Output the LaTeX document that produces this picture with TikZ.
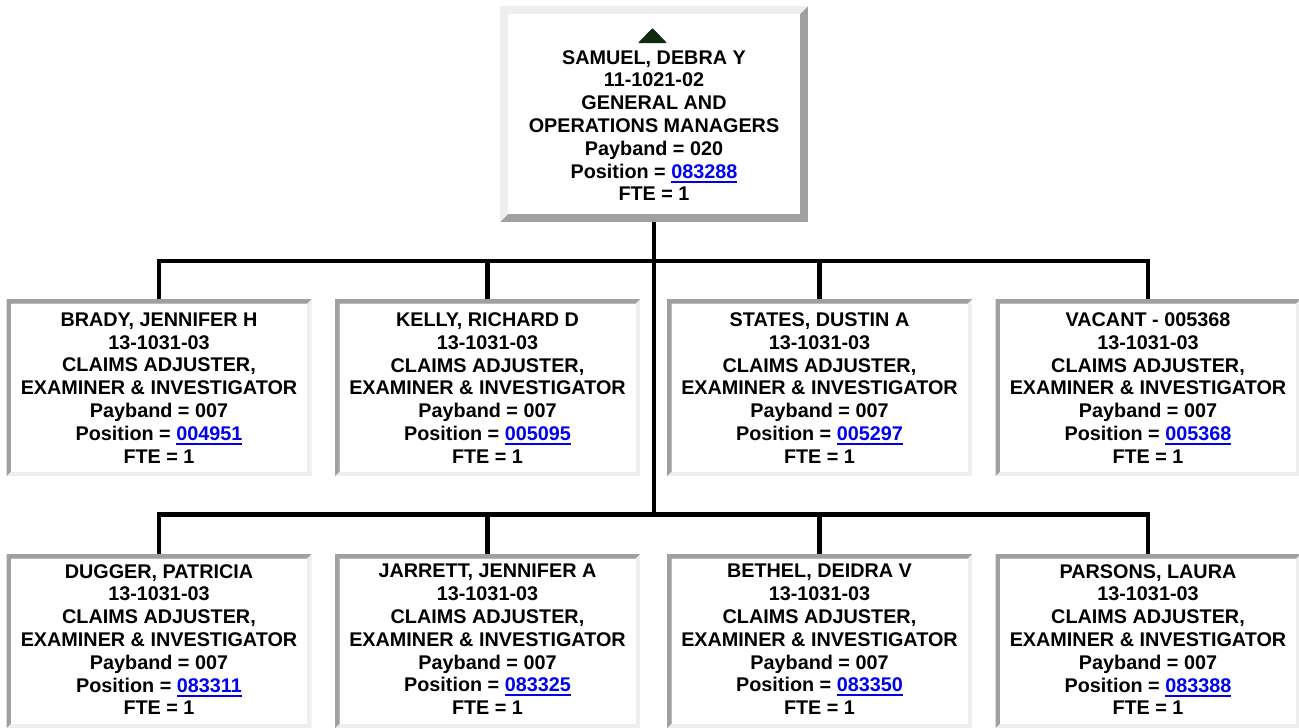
\documentclass[tikz,border=0pt]{standalone}
\usepackage{fontspec}
\setmainfont{Liberation Sans}
\definecolor{bdark}{HTML}{A0A0A0}
\definecolor{blight}{HTML}{EEEEEE}
\definecolor{linkblue}{RGB}{0,0,238}
\definecolor{arrowgreen}{RGB}{14,44,16}
\newcommand\poslink[1]{{\color{linkblue}\setbox0\hbox{#1}\rlap{\rule[-4.6pt]{\wd0}{2.1pt}}\box0}}
\newcommand\claimtext[2]{#1\\13-1031-03\\CLAIMS ADJUSTER,\\EXAMINER \& INVESTIGATOR\\Payband = 007\\Position = \poslink{#2}\\FTE = 1}
\tikzset{
  bevel/.style n args={3}{draw=none, inner sep=0pt, path picture={
    \fill[#2] (path picture bounding box.south west) rectangle (path picture bounding box.north east);
    \fill[#1] (path picture bounding box.south west) -- (path picture bounding box.north west)
      -- (path picture bounding box.north east) -- ([shift={(-#3,-#3)}]path picture bounding box.north east)
      -- ([shift={(#3,-#3)}]path picture bounding box.north west) -- ([shift={(#3,#3)}]path picture bounding box.south west) -- cycle;
    \fill[white] ([shift={(#3,#3)}]path picture bounding box.south west) rectangle ([shift={(-#3,-#3)}]path picture bounding box.north east);
  }},
  outsetbox/.style={bevel={blight}{bdark}{8pt}, minimum width=308pt, minimum height=216pt},
  insetbox/.style={bevel={bdark}{blight}{4.5pt}, minimum width=305pt},
  row1/.style={insetbox, minimum height=177pt},
  row2/.style={insetbox, minimum height=174pt},
  boxtext/.style={font=\fontsize{19.8}{22.8}\selectfont\bfseries, align=center, inner sep=0pt, anchor=north},
  conn/.style={line width=4.5pt, black, line join=miter},
}
\begin{document}
\begin{tikzpicture}[x=1pt, y=-1pt]
\useasboundingbox (0,0) rectangle (1299,728);
\coordinate (bus1) at (0,261);
\coordinate (bus2) at (0,514.5);
% boxes
\node[outsetbox] (top) at (654,114) {};
\node[row1] (b1) at (159,387.5) {};
\node[row1] (b2) at (487.5,387.5) {};
\node[row1] (b3) at (819.5,387.5) {};
\node[row1] (b4) at (1148,387.5) {};
\node[row2] (c1) at (159,641) {};
\node[row2] (c2) at (487.5,641) {};
\node[row2] (c3) at (819.5,641) {};
\node[row2] (c4) at (1148,641) {};
% connectors
\draw[conn] (top.south) -- (top.south |- bus2);
\draw[conn] (b1.north) -- (b1.north |- bus1) -- (b4.north |- bus1) -- (b4.north);
\draw[conn] (b2.north) -- (b2.north |- bus1);
\draw[conn] (b3.north) -- (b3.north |- bus1);
\draw[conn] (c1.north) -- (c1.north |- bus2) -- (c4.north |- bus2) -- (c4.north);
\draw[conn] (c2.north) -- (c2.north |- bus2);
\draw[conn] (c3.north) -- (c3.north |- bus2);
% triangle marker
\fill[arrowgreen, rounded corners=1pt] (638,43) -- (652.5,28) -- (667,43) -- cycle;
% texts
\node[boxtext] (t0) at (654,50) {SAMUEL, DEBRA Y\\11-1021-02\\GENERAL AND\\OPERATIONS MANAGERS\\Payband = 020\\Position = \poslink{083288}\\FTE = 1};
\node[boxtext] (t1) at (159,312.5) {\claimtext{BRADY, JENNIFER H}{004951}};
\node[boxtext] (t2) at (487.5,312.5) {\claimtext{KELLY, RICHARD D}{005095}};
\node[boxtext] (t3) at (819.5,312.5) {\claimtext{STATES, DUSTIN A}{005297}};
\node[boxtext] (t4) at (1148,312.5) {\claimtext{VACANT - 005368}{005368}};
\node[boxtext] (u1) at (159,564) {\claimtext{DUGGER, PATRICIA}{083311}};
\node[boxtext] (u2) at (487.5,564) {\claimtext{JARRETT, JENNIFER A}{083325}};
\node[boxtext] (u3) at (819.5,564) {\claimtext{BETHEL, DEIDRA V}{083350}};
\node[boxtext] (u4) at (1148,564) {\claimtext{PARSONS, LAURA}{083388}};
\end{tikzpicture}
\end{document}
